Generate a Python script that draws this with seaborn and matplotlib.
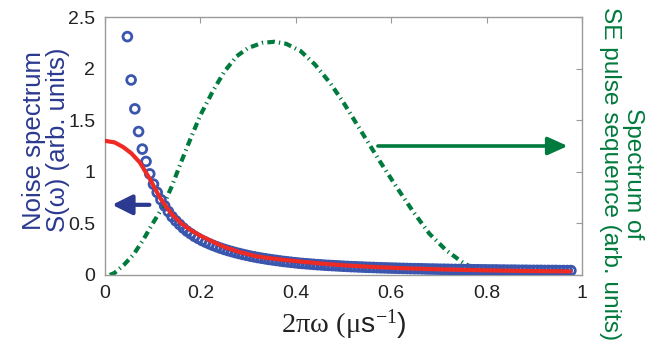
import numpy as np
import pandas as pd
import matplotlib
matplotlib.use("Agg")
import matplotlib.pyplot as plt
import seaborn as sns

# ---- data ----
# measured noise spectrum (circles), sampled every 1/128
noise_k_start, noise_k_stop, noise_den = 6, 126, 128
noise_vals = [2.31, 1.89, 1.61, 1.39, 1.22, 1.10, 0.98, 0.88, 0.80, 0.73,
              0.67, 0.615, 0.565, 0.525, 0.49, 0.455, 0.425, 0.40, 0.375, 0.355,
              0.335, 0.318, 0.302, 0.287, 0.273, 0.260, 0.248, 0.237, 0.227, 0.217,
              0.208, 0.199, 0.191, 0.183, 0.176, 0.169, 0.163, 0.157, 0.151, 0.146,
              0.141, 0.136, 0.131, 0.127, 0.123, 0.119, 0.115, 0.112, 0.109, 0.106,
              0.103, 0.100, 0.098, 0.095, 0.093, 0.091, 0.089, 0.087, 0.085, 0.083,
              0.081, 0.080, 0.078, 0.077, 0.075, 0.074, 0.073, 0.071, 0.070, 0.069,
              0.068, 0.067, 0.066, 0.065, 0.064, 0.063, 0.062, 0.061, 0.061, 0.060,
              0.059, 0.058, 0.058, 0.057, 0.056, 0.056, 0.055, 0.054, 0.054, 0.053,
              0.053, 0.052, 0.052, 0.051, 0.051, 0.050, 0.050, 0.049, 0.049, 0.049,
              0.048, 0.048, 0.047, 0.047, 0.047, 0.046, 0.046, 0.046, 0.045, 0.045,
              0.045, 0.045, 0.044, 0.044, 0.044, 0.044, 0.043, 0.043, 0.043, 0.043]

# fitted noise spectrum (red line)
fit_x = [0.0, 0.02, 0.038, 0.055, 0.073, 0.094, 0.115, 0.13, 0.143, 0.16, 0.178,
         0.20, 0.22, 0.248, 0.28, 0.318, 0.35, 0.388, 0.45, 0.50, 0.55, 0.60,
         0.65, 0.70, 0.75, 0.80, 0.85, 0.90, 0.975]
fit_y = [1.30, 1.285, 1.24, 1.18, 1.09, 0.93, 0.75, 0.65, 0.575, 0.50, 0.44,
         0.38, 0.335, 0.275, 0.225, 0.18, 0.16, 0.14, 0.112, 0.094, 0.081, 0.07,
         0.062, 0.055, 0.05, 0.045, 0.041, 0.038, 0.035]

# SE pulse sequence spectrum (green dash-dot)
se_x = [0.01, 0.02, 0.04, 0.06, 0.08, 0.10, 0.12, 0.14, 0.16, 0.18, 0.20, 0.227,
        0.25, 0.276, 0.30, 0.33, 0.355, 0.38, 0.41, 0.44, 0.472, 0.50, 0.54, 0.575,
        0.61, 0.645, 0.68, 0.715, 0.75, 0.77, 0.80, 0.85, 0.90, 0.975]
se_y = [0.0, 0.02, 0.10, 0.20, 0.34, 0.50, 0.65, 0.86, 1.10, 1.33, 1.55, 1.79,
        1.97, 2.12, 2.20, 2.25, 2.26, 2.24, 2.17, 2.04, 1.86, 1.67, 1.37, 1.11,
        0.86, 0.62, 0.40, 0.24, 0.12, 0.07, 0.04, 0.025, 0.02, 0.02]

x_ticks = [0, 0.2, 0.4, 0.6, 0.8, 1]
x_tick_labels = ["0", "0.2", "0.4", "0.6", "0.8", "1"]
y_ticks = [0, 0.5, 1, 1.5, 2, 2.5]
y_tick_labels = ["0", "0.5", "1", "1.5", "2", "2.5"]

# ---- styling ----
sns.set_theme(style="white")
plt.rcParams["font.family"] = ["Liberation Sans", "DejaVu Sans"]
plt.rcParams["mathtext.fontset"] = "custom"
plt.rcParams["mathtext.rm"] = "Liberation Serif"
plt.rcParams["mathtext.it"] = "Liberation Serif"

BLUE_TXT = "#2B3990"
BLUE_PTS = "#3A56AE"
RED = "#EE2A24"
GREEN = "#007A3D"
SPINE = "#9A9A9A"

fig = plt.figure(figsize=(6.54, 3.5), dpi=100)
ax = fig.add_axes([0.1606, 0.2143, 0.7294, 0.7371])

noise_x = np.arange(noise_k_start, noise_k_stop) / noise_den
df_noise = pd.DataFrame({"x": noise_x, "y": noise_vals})
df_fit = pd.DataFrame({"x": fit_x, "y": fit_y})
df_se = pd.DataFrame({"x": se_x, "y": se_y})

sns.lineplot(data=df_se, x="x", y="y", ax=ax, color=GREEN, lw=3.0, zorder=2)
ax.lines[-1].set_dashes([1.8, 1.0, 0.3, 1.0])
sns.scatterplot(data=df_noise, x="x", y="y", ax=ax, marker="o", s=40,
                facecolor="none", edgecolor=BLUE_PTS, linewidth=2.0, zorder=3)
sns.lineplot(data=df_fit, x="x", y="y", ax=ax, color=RED, lw=3.0, zorder=4)

ax.set_xlim(0, 1)
ax.set_ylim(0, 2.5)
ax.set_xticks(x_ticks)
ax.set_xticklabels(x_tick_labels)
ax.set_yticks(y_ticks)
ax.set_yticklabels(y_tick_labels)
ax.tick_params(direction="in", length=4, width=0.8, color=SPINE,
               top=True, right=True, labelsize=14, pad=7, labelcolor="#222222")
for sp in ax.spines.values():
    sp.set_color(SPINE)
    sp.set_linewidth(1.0)

ax.set_xlabel(r"$\mathrm{2πω\ (μ}$s$^{\mathrm{-1}}$)", fontsize=20.5, color="#222222", labelpad=4)
ax.set_ylabel("")

fig.text(0.0703, 0.60, "Noise spectrum\nS(ω) (arb. units)", fontsize=18.5,
         color=BLUE_TXT, rotation=90, ha="center", va="center", linespacing=1.0)
fig.text(0.950, 0.505, "Spectrum of\nSE pulse sequence (arb. units)", fontsize=17.6,
         color=GREEN, rotation=-90, ha="center", va="center", linespacing=1.05)

# arrows
ax.annotate("", xy=(0.015, 0.68), xytext=(0.093, 0.68),
            arrowprops=dict(arrowstyle="-|>,head_length=1.0,head_width=0.5",
                            color=BLUE_TXT, lw=3, shrinkA=0, shrinkB=0))
ax.annotate("", xy=(0.97, 1.25), xytext=(0.572, 1.25),
            arrowprops=dict(arrowstyle="-|>,head_length=1.0,head_width=0.45",
                            color=GREEN, lw=2.6, shrinkA=0, shrinkB=0))

fig.savefig("out.png", dpi=100)
